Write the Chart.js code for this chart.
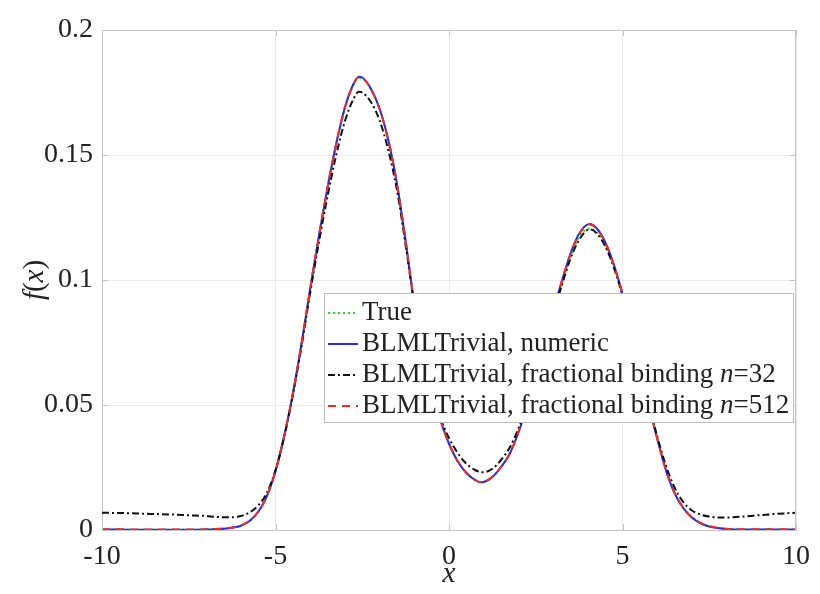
<!DOCTYPE html>
<html>
<head>
<meta charset="utf-8">
<script src="https://cdn.jsdelivr.net/npm/chart.js@4.4.1/dist/chart.umd.min.js"></script>
<style>
  html, body { margin: 0; padding: 0; background: #fff; }
  #wrap { width: 820px; height: 594px; }
</style>
</head>
<body>
<div id="wrap"><canvas id="densityChart" width="820" height="594"></canvas></div>
<script>
// sample grid shared by every curve
const xValues = [
  -10, -9.5, -9, -8.5, -8, -7.5, -7, -6.75, -6.5, -6.25, -6, -5.75, -5.5, -5.25, -5,
  -4.75, -4.5, -4.25, -4, -3.75, -3.5, -3.25, -3, -2.75, -2.6, -2.5, -2.25, -2,
  -1.75, -1.5, -1.25, -1, -0.75, -0.5, -0.25, 0, 0.25, 0.5, 0.75, 0.9, 1,
  1.25, 1.5, 1.75, 2, 2.25, 2.5, 2.75, 3, 3.25, 3.5, 3.75, 4.05, 4.25, 4.5, 4.75, 5,
  5.25, 5.5, 5.75, 6, 6.25, 6.5, 6.75, 7, 7.25, 7.5, 7.75, 8, 8.5, 9, 9.5, 10
];

const trueValues = [
  0.0001, 0.0001, 0.0001, 0.0001, 0.0001, 0.0001, 0.0002, 0.0003, 0.0005, 0.0009, 0.0017, 0.0036, 0.0072, 0.0135, 0.0235,
  0.0375, 0.0545, 0.0745, 0.0965, 0.1175, 0.1370, 0.1545, 0.1688, 0.1782, 0.1808, 0.1806, 0.1763, 0.1684,
  0.1560, 0.1385, 0.1155, 0.0905, 0.0705, 0.0555, 0.0440, 0.0345, 0.0275, 0.0228, 0.0200, 0.0191, 0.0192,
  0.0212, 0.0252, 0.0305, 0.0390, 0.0495, 0.0612, 0.0740, 0.0868, 0.0985, 0.1092, 0.1172, 0.1206, 0.1192, 0.1140, 0.1055, 0.0940,
  0.0808, 0.0660, 0.0505, 0.0365, 0.0240, 0.0148, 0.0088, 0.0050, 0.0027, 0.0014, 0.0008, 0.0004, 0.0001, 0.0001, 0.0001, 0.0001
];

const numericValues = [
  0.0002, 0.0002, 0.0001, 0.0001, 0.0001, 0.0001, 0.0002, 0.0003, 0.0005, 0.0009, 0.0017, 0.0036, 0.0072, 0.0135, 0.0235,
  0.0375, 0.0545, 0.0745, 0.0965, 0.1175, 0.1370, 0.1545, 0.1690, 0.1785, 0.1813, 0.1810, 0.1765, 0.1685,
  0.1560, 0.1385, 0.1155, 0.0905, 0.0705, 0.0555, 0.0440, 0.0345, 0.0275, 0.0228, 0.0200, 0.0191, 0.0192,
  0.0212, 0.0252, 0.0305, 0.0390, 0.0495, 0.0615, 0.0745, 0.0875, 0.0995, 0.1105, 0.1185, 0.1224, 0.1208, 0.1152, 0.1062, 0.0945,
  0.0810, 0.0660, 0.0505, 0.0365, 0.0240, 0.0148, 0.0088, 0.0050, 0.0027, 0.0014, 0.0008, 0.0004, 0.0002, 0.0002, 0.0002, 0.0002
];

const frac32Values = [
  0.0069, 0.0068, 0.0066, 0.0064, 0.0062, 0.0059, 0.0056, 0.0053, 0.0051, 0.0051, 0.0056, 0.0070, 0.0098, 0.0148, 0.0240,
  0.0372, 0.0540, 0.0735, 0.0950, 0.1150, 0.1335, 0.1500, 0.1635, 0.1725, 0.1753, 0.1750, 0.1712, 0.1638,
  0.1520, 0.1360, 0.1140, 0.0900, 0.0705, 0.0560, 0.0448, 0.0368, 0.0308, 0.0265, 0.0240, 0.0232, 0.0231,
  0.0245, 0.0280, 0.0330, 0.0405, 0.0500, 0.0612, 0.0738, 0.0862, 0.0978, 0.1085, 0.1160, 0.1203, 0.1188, 0.1135, 0.1050, 0.0938,
  0.0805, 0.0660, 0.0510, 0.0375, 0.0258, 0.0170, 0.0112, 0.0078, 0.0062, 0.0054, 0.0050, 0.0050, 0.0054, 0.0060, 0.0065, 0.0069
];

const frac512Values = [
  0.0003, 0.0003, 0.0002, 0.0002, 0.0002, 0.0002, 0.0003, 0.0004, 0.0006, 0.0010, 0.0018, 0.0037, 0.0073, 0.0136, 0.0236,
  0.0376, 0.0546, 0.0746, 0.0966, 0.1176, 0.1370, 0.1545, 0.1690, 0.1784, 0.1812, 0.1809, 0.1764, 0.1684,
  0.1559, 0.1385, 0.1156, 0.0906, 0.0706, 0.0556, 0.0441, 0.0346, 0.0276, 0.0229, 0.0201, 0.0192, 0.0193,
  0.0213, 0.0253, 0.0306, 0.0391, 0.0495, 0.0614, 0.0744, 0.0874, 0.0994, 0.1104, 0.1183, 0.1222, 0.1206, 0.1151, 0.1061, 0.0945,
  0.0810, 0.0661, 0.0506, 0.0366, 0.0241, 0.0149, 0.0089, 0.0051, 0.0028, 0.0015, 0.0009, 0.0005, 0.0003, 0.0003, 0.0003, 0.0003
];

const xTicks = [-10, -5, 0, 5, 10];
const xTickLabels = ['-10', '-5', '0', '5', '10'];
const yTicks = [0, 0.05, 0.1, 0.15, 0.2];
const yTickLabels = ['0', '0.05', '0.1', '0.15', '0.2'];
const seriesLabels = [
  'True',
  'BLMLTrivial, numeric',
  'BLMLTrivial, fractional binding n=32',
  'BLMLTrivial, fractional binding n=512'
];

const SERIF = '"Liberation Serif", "Times New Roman", serif';
const TEXT_COLOR = '#222222';
const AXIS_COLOR = '#c4c4c4';
const GRID_COLOR = '#ebebeb';

const toPoints = ys => xValues.map((x, i) => ({ x: x, y: ys[i] }));

const datasets = [
  { label: seriesLabels[0], data: toPoints(trueValues), borderColor: '#22dd22', borderWidth: 2, borderDash: [2, 3], order: 4 },
  { label: seriesLabels[1], data: toPoints(numericValues), borderColor: '#2a2ae6', borderWidth: 2, borderDash: [], order: 3 },
  { label: seriesLabels[2], data: toPoints(frac32Values), borderColor: '#111111', borderWidth: 2, borderDash: [7, 3, 2, 3], order: 2 },
  { label: seriesLabels[3], data: toPoints(frac512Values), borderColor: '#f02a2a', borderWidth: 2, borderDash: [8, 6], order: 1 }
];

// box outline, inward ticks, legend and axis titles
const framePlugin = {
  id: 'framePlugin',
  afterDraw(chart) {
    const ctx = chart.ctx;
    const area = chart.chartArea;
    const xs = chart.scales.x;
    const ys = chart.scales.y;
    ctx.save();

    // top / right edges of the box plus inward ticks
    ctx.strokeStyle = AXIS_COLOR;
    ctx.lineWidth = 1;
    ctx.setLineDash([]);
    ctx.beginPath();
    ctx.moveTo(area.left, area.top + 0.5);
    ctx.lineTo(area.right, area.top + 0.5);
    ctx.moveTo(area.right - 0.5, area.top);
    ctx.lineTo(area.right - 0.5, area.bottom);
    xTicks.forEach(v => {
      const px = Math.round(xs.getPixelForValue(v)) + 0.5;
      ctx.moveTo(px, area.bottom); ctx.lineTo(px, area.bottom - 6);
      ctx.moveTo(px, area.top); ctx.lineTo(px, area.top + 6);
    });
    yTicks.forEach(v => {
      const py = Math.round(ys.getPixelForValue(v)) + 0.5;
      ctx.moveTo(area.left, py); ctx.lineTo(area.left + 6, py);
      ctx.moveTo(area.right, py); ctx.lineTo(area.right - 6, py);
    });
    ctx.stroke();

    // legend
    const box = { left: 324, top: 293, width: 469, height: 129 };
    ctx.fillStyle = '#ffffff';
    ctx.fillRect(box.left, box.top, box.width, box.height);
    ctx.strokeStyle = '#bdbdbd';
    ctx.strokeRect(box.left + 0.5, box.top + 0.5, box.width, box.height);

    const fontSize = 27;
    const rowGap = 31;
    ctx.textBaseline = 'middle';
    ctx.textAlign = 'left';
    chart.data.datasets.forEach((ds, i) => {
      const cy = box.top + 20 + i * rowGap;
      ctx.strokeStyle = ds.borderColor;
      ctx.lineWidth = ds.borderWidth;
      ctx.setLineDash(ds.borderDash);
      ctx.beginPath();
      ctx.moveTo(box.left + 4, cy);
      ctx.lineTo(box.left + 34, cy);
      ctx.stroke();
      ctx.setLineDash([]);

      let tx = box.left + 38;
      ctx.fillStyle = TEXT_COLOR;
      const parts = ds.label.split(' n=');
      ctx.font = fontSize + 'px ' + SERIF;
      if (parts.length === 2) {
        const head = parts[0] + ' ';
        ctx.fillText(head, tx, cy);
        tx += ctx.measureText(head).width;
        ctx.font = 'italic ' + fontSize + 'px ' + SERIF;
        ctx.fillText('n', tx, cy);
        tx += ctx.measureText('n').width;
        ctx.font = fontSize + 'px ' + SERIF;
        ctx.fillText('=' + parts[1], tx, cy);
      } else {
        ctx.fillText(ds.label, tx, cy);
      }
    });

    // axis titles
    ctx.fillStyle = TEXT_COLOR;
    ctx.textAlign = 'center';
    ctx.font = 'italic 29px ' + SERIF;
    ctx.fillText('x', (area.left + area.right) / 2, 574);

    ctx.translate(35, (area.top + area.bottom) / 2);
    ctx.rotate(-Math.PI / 2);
    const pieces = [['f', true], ['(', false], ['x', true], [')', false]];
    let total = 0;
    pieces.forEach(p => {
      ctx.font = (p[1] ? 'italic ' : '') + '29px ' + SERIF;
      total += ctx.measureText(p[0]).width;
    });
    let px = -total / 2;
    ctx.textAlign = 'left';
    pieces.forEach(p => {
      ctx.font = (p[1] ? 'italic ' : '') + '29px ' + SERIF;
      ctx.fillText(p[0], px, 0);
      px += ctx.measureText(p[0]).width;
    });
    ctx.restore();
  }
};

const ctx = document.getElementById('densityChart').getContext('2d');
new Chart(ctx, {
  type: 'line',
  data: { datasets: datasets },
  options: {
    responsive: false,
    animation: false,
    devicePixelRatio: 1,
    layout: { padding: { left: 0, right: 13, top: 30, bottom: 0 } },
    elements: {
      point: { radius: 0 },
      line: { cubicInterpolationMode: 'monotone', fill: false }
    },
    plugins: {
      legend: { display: false },
      tooltip: { enabled: false }
    },
    scales: {
      x: {
        type: 'linear',
        min: -10,
        max: 10,
        afterFit: s => { s.height = 64; },
        afterBuildTicks: s => { s.ticks = xTicks.map(v => ({ value: v })); },
        ticks: {
          callback: (v, i) => xTickLabels[i],
          font: { family: SERIF, size: 28 },
          color: TEXT_COLOR,
          padding: 10,
          maxRotation: 0
        },
        grid: { color: GRID_COLOR, drawTicks: false },
        border: { color: AXIS_COLOR }
      },
      y: {
        type: 'linear',
        min: 0,
        max: 0.2,
        afterFit: s => { s.width = 102; },
        afterBuildTicks: s => { s.ticks = yTicks.map(v => ({ value: v })); },
        ticks: {
          callback: (v, i) => yTickLabels[i],
          font: { family: SERIF, size: 28 },
          color: TEXT_COLOR,
          padding: 9
        },
        grid: { color: GRID_COLOR, drawTicks: false },
        border: { color: AXIS_COLOR }
      }
    }
  },
  plugins: [framePlugin]
});
</script>
</body>
</html>
